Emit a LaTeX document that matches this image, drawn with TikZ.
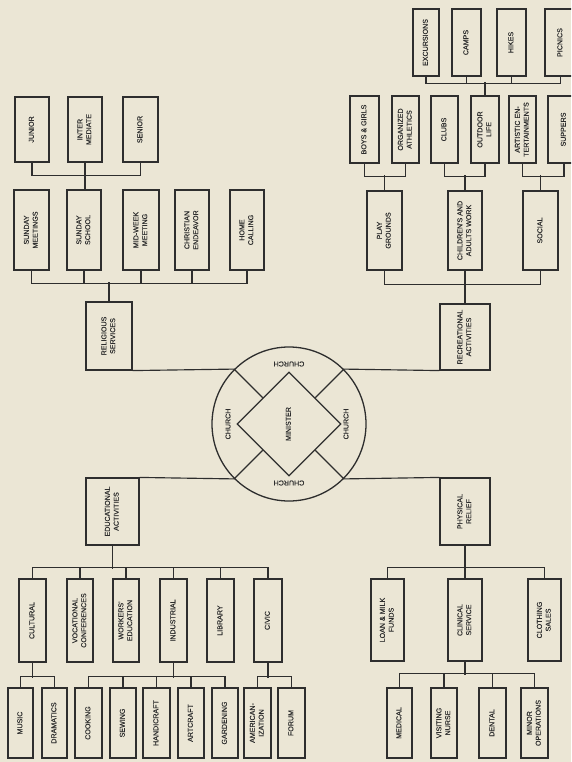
\documentclass[tikz,border=0pt]{standalone}
\usepackage{fontspec}
\setmainfont{Liberation Sans}
\newfontfamily\boxfont{Liberation Sans}[FakeBold=0.4]
\usetikzlibrary{shapes.geometric}
\definecolor{paper}{HTML}{EBE6D5}
\definecolor{ink}{HTML}{2E2E2E}
\newcommand\vt[1]{\rotatebox{90}{\begin{tabular}{@{}c@{}}#1\end{tabular}}}
\newcommand\bx[6]{\node[box, minimum width={(#4-#2)*1pt}, minimum height={(#5-#3)*1pt}] (#1) at ({(#2+#4)/2},{(#3+#5)/2}) {\vt{#6}};}
\tikzset{
  box/.style={draw=ink, line width=1.15pt, inner sep=0pt, text=ink, font=\boxfont\fontsize{7.1}{8.8}\selectfont},
  conn/.style={draw=ink, line width=1.15pt},
  lbl/.style={text=ink, font=\boxfont\fontsize{7.1}{8.8}\selectfont, inner sep=0pt}
}
\begin{document}
\begin{tikzpicture}[x=1pt,y=-1pt]
\path[use as bounding box, fill=paper] (0,0) rectangle (571,762);
\clip (0,0) rectangle (571,762);

% ---------- centre ----------
\node[circle, draw=ink, line width=1.3pt, minimum size=154pt, inner sep=0pt] (circ) at (289,424) {};
\node[diamond, draw=ink, line width=1.2pt, minimum width=104pt, minimum height=104pt, inner sep=0pt, aspect=1] (dia) at (289,424) {};
\node[lbl] (min) at (289,424) {\vt{MINISTER}};
\node[lbl, rotate=90] (chl) at (228,424) {CHURCH};
\node[lbl, rotate=90] (chr) at (346,424) {CHURCH};
\node[lbl, rotate=180] (cht) at (289,364) {CHURCH};
\node[lbl, rotate=180] (chb) at (289,483) {CHURCH};
\draw[conn, line width=1.2pt] (circ.45) -- (dia.north east);
\draw[conn, line width=1.2pt] (circ.135) -- (dia.north west);
\draw[conn, line width=1.2pt] (circ.225) -- (dia.south west);
\draw[conn, line width=1.2pt] (circ.315) -- (dia.south east);

% ---------- religious ----------
\bx{jun}{15}{97}{49}{162}{JUNIOR}
\bx{int}{68}{97}{102}{162}{INTER\\MEDIATE}
\bx{sen}{123}{97}{158}{162}{SENIOR}
\bx{sm}{14}{190}{49}{270}{SUNDAY\\MEETINGS}
\bx{ss}{67}{190}{101}{270}{SUNDAY\\SCHOOL}
\bx{mw}{123}{190}{159}{270}{MID-WEEK\\MEETING}
\bx{ce}{175}{190}{209}{270}{CHRISTIAN\\ENDEAVOR}
\bx{hc}{230}{190}{264}{270}{HOME\\CALLING}
\bx{rel}{86}{302}{132}{370}{RELIGIOUS\\SERVICES}
\draw[conn] (jun.south) -- ++(0,13) -| (sen.south);
\draw[conn] (int.south) -- (int.south |- ss.north);
\draw[conn] (sm.south) -- ++(0,13) -| (hc.south);
\foreach \n in {ss,mw,ce} \draw[conn] (\n.south) -- ++(0,13);
\draw[conn] (rel.north) -- ++(0,-19);
\draw[conn] (rel.south east) -- (circ.135);

% ---------- recreational ----------
\bx{exc}{413}{9}{439}{76}{EXCURSIONS}
\bx{cmp}{452}{9}{481}{76}{CAMPS}
\bx{hik}{497}{9}{526}{76}{HIKES}
\bx{pic}{545}{9}{576}{76}{PICNICS}
\bx{bg}{350}{96}{379}{163}{BOYS \& GIRLS}
\bx{org}{392}{96}{419}{163}{ORGANIZED\\ATHLETICS}
\bx{clb}{431}{96}{458}{163}{CLUBS}
\bx{out}{471}{96}{499}{163}{OUTDOOR\\LIFE}
\bx{art}{509}{96}{536}{163}{ARTISTIC EN-\\TERTAINMENTS}
\bx{sup}{548}{96}{580}{163}{SUPPERS}
\bx{pg}{367}{191}{402}{270}{PLAY\\GROUNDS}
\bx{caw}{448}{191}{482}{270}{CHILDREN'S AND\\ADULTS WORK}
\bx{soc}{523}{191}{558}{270}{SOCIAL}
\bx{rec}{440}{304}{490}{370}{RECREATIONAL\\ACTIVITIES}
\draw[conn] (exc.south) -- ++(0,7) -| (pic.south);
\foreach \n in {cmp,hik} \draw[conn] (\n.south) -- ++(0,7);
\draw[conn] (out.north) -- ++(0,-13);
\draw[conn] (bg.south) -- ++(0,13) -| (org.south);
\draw[conn] (clb.south) -- ++(0,13) -| (out.south);
\draw[conn] (art.south) -- ++(0,13) -| (sup.south);
\foreach \n in {pg,caw,soc} \draw[conn] (\n.north) -- ++(0,-15);
\draw[conn] (pg.south) -- ++(0,14) -| (soc.south);
\draw[conn] (caw.south) -- ++(0,14);
\draw[conn] (rec.north) -- ++(0,-20);
\draw[conn] (rec.south west) -- (circ.45);

% ---------- physical relief ----------
\bx{phy}{440}{478}{490}{545}{PHYSICAL\\RELIEF}
\bx{lmf}{371}{579}{404}{661}{LOAN \& MILK\\FUNDS}
\bx{cs}{448}{579}{482}{661}{CLINICAL\\SERVICE}
\bx{cls}{528}{579}{561}{661}{CLOTHING\\SALES}
\bx{med}{387}{688}{412}{758}{MEDICAL}
\bx{vn}{431}{688}{457}{758}{VISITING\\NURSE}
\bx{den}{479}{688}{506}{758}{DENTAL}
\bx{mo}{521}{688}{548}{758}{MINOR\\OPERATIONS}
\draw[conn] (phy.north west) -- (circ.315);
\draw[conn] (phy.south) -- ++(0,23);
\draw[conn] (lmf.north) -- ++(0,-11) -| (cls.north);
\draw[conn] (cs.north) -- ++(0,-11);
\draw[conn] (cs.south) -- ++(0,13);
\draw[conn] (med.north) -- ++(0,-14) -| (mo.north);
\foreach \n in {vn,den} \draw[conn] (\n.north) -- ++(0,-14);

% ---------- educational ----------
\bx{edu}{86}{478}{139}{545}{EDUCATIONAL\\ACTIVITIES}
\bx{cul}{19}{579}{46}{662}{CULTURAL}
\bx{voc}{67}{579}{93}{662}{VOCATIONAL\\CONFERENCES}
\bx{wrk}{113}{579}{139}{662}{WORKERS'\\EDUCATION}
\bx{ind}{160}{579}{187}{662}{INDUSTRIAL}
\bx{lib}{207}{579}{234}{662}{LIBRARY}
\bx{civ}{254}{579}{282}{662}{CIVIC}
\bx{mus}{8}{688}{33}{758}{MUSIC}
\bx{dra}{42}{688}{67}{758}{DRAMATICS}
\bx{coo}{75}{688}{102}{758}{COOKING}
\bx{sew}{110}{688}{136}{758}{SEWING}
\bx{han}{143}{688}{170}{758}{HANDICRAFT}
\bx{arc}{178}{688}{204}{758}{ARTCRAFT}
\bx{gar}{212}{688}{238}{758}{GARDENING}
\bx{ame}{244}{688}{271}{758}{AMERICAN-\\IZATION}
\bx{frm}{278}{688}{305}{758}{FORUM}
\draw[conn] (edu.north east) -- (circ.225);
\draw[conn] (edu.south) -- ++(0,23);
\draw[conn] (cul.north) -- ++(0,-11) -| (civ.north);
\foreach \n in {voc,wrk,ind,lib} \draw[conn] (\n.north) -- ++(0,-11);
\foreach \n in {cul,ind,civ} \draw[conn] (\n.south) -- ++(0,15);
\draw[conn] (mus.north) -- ++(0,-11) -| (dra.north);
\draw[conn] (coo.north) -- ++(0,-11) -| (gar.north);
\foreach \n in {sew,han,arc} \draw[conn] (\n.north) -- ++(0,-11);
\draw[conn] (ame.north) -- ++(0,-11) -| (frm.north);
\end{tikzpicture}
\end{document}
